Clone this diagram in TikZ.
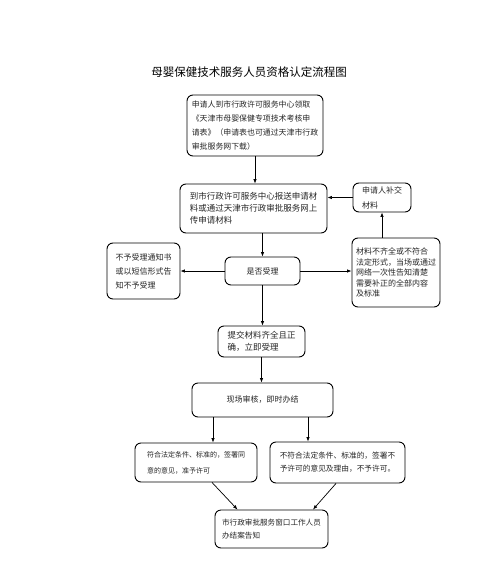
\documentclass[tikz,border=0pt]{standalone}
\usepackage{fontspec}
\setmainfont{Noto Sans CJK SC}
\usetikzlibrary{arrows.meta}

\newcommand{\gr}[2]{\fontsize{#1}{#2}\selectfont}

\begin{document}
\begin{tikzpicture}[x=1pt,y=-1pt,
  kasten/.style={draw,rounded corners=6pt,line width=0.9pt,inner sep=0pt,align=left,text=black!85},
  pfeil/.style={line width=0.7pt,-{Latex[length=4.5pt,width=3.5pt]}}]
\useasboundingbox[fill=white] (0,0) rectangle (500,565);

\node[font=\gr{11.5}{14}](T) at (249,72){母婴保健技术服务人员资格认定流程图};

\node[kasten,font=\gr{7.9}{13.7},minimum width=136pt,minimum height=61pt](B1) at (255,125.5)
  {申请人到市行政许可服务中心领取\\《天津市母婴保健专项技术考核申\\请表》（申请表也可通过天津市行政\\审批服务网下载）};
\node[kasten,font=\gr{8.5}{12},minimum width=147pt,minimum height=49pt](B2) at (253.5,208.5)
  {到市行政许可服务中心报送申请材\\料或通过天津市行政审批服务网上\\传申请材料};
\node[kasten,font=\gr{8}{15},minimum width=58pt,minimum height=29pt](B3) at (382,197.5)
  {申请人补交\\材料};
\node[kasten,font=\gr{8}{14},minimum width=73pt,minimum height=56pt](B4) at (143.5,271)
  {不予受理通知书\\或以短信形式告\\知不予受理};
\node[kasten,font=\gr{8}{10},minimum width=75pt,minimum height=28pt](B5) at (262.5,271)
  {是否受理};
\node[kasten,font=\gr{8}{10.5},minimum width=88pt,minimum height=69pt](B6) at (396,272.5)
  {材料不齐全或不符合\\法定形式，当场或通过\\网络一次性告知清楚\\需要补正的全部内容\\及标准};
\node[kasten,font=\gr{8.5}{12},minimum width=87pt,minimum height=31pt](B7) at (261.5,341.5)
  {提交材料齐全且正\\确，立即受理};
\node[kasten,font=\gr{8}{10},minimum width=141pt,minimum height=34pt](B8) at (262.5,400)
  {现场审核，即时办结};
\node[kasten,font=\gr{7}{16},minimum width=122pt,minimum height=39pt](B9) at (196,462.5)
  {符合法定条件、标准的，签署同\\意的意见，准予许可};
\node[kasten,font=\gr{7.7}{13},minimum width=135pt,minimum height=41pt](B10) at (337.5,462.5)
  {不符合法定条件、标准的，签署不\\予许可的意见及理由，不予许可。};
\node[kasten,font=\gr{7.6}{13},minimum width=113pt,minimum height=38pt](B11) at (271.5,529)
  {市行政审批服务窗口工作人员\\办结案告知};

\draw[pfeil](B1.south) -- (B1.south |- B2.north);
\draw[pfeil](B3.west) -- (B3.west -| B2.east);
\draw[pfeil](B6.north -| B3.south) -- (B3.south);
\draw[pfeil](B5.north |- B2.south) -- (B5.north);
\draw[pfeil](B5.west) -- (B4.east);
\draw[pfeil](B5.east) -- (B5.east -| B6.west);
\draw[pfeil](B5.south) -- (B5.south |- B7.north);
\draw[pfeil](B7.south) -- (B7.south |- B8.north);
\draw[pfeil]([xshift=-49.5pt]B8.south) -- ([xshift=-49.5pt]B8.south |- B9.north);
\draw[pfeil]([xshift=45.5pt]B8.south) -- ([xshift=45.5pt]B8.south |- B10.north);
\draw[pfeil]([xshift=16pt]B9.south) -- ([xshift=-34pt]B11.north);
\draw[pfeil]([xshift=-1.5pt]B10.south) -- ([xshift=41.5pt]B11.north);

\end{tikzpicture}
\end{document}
